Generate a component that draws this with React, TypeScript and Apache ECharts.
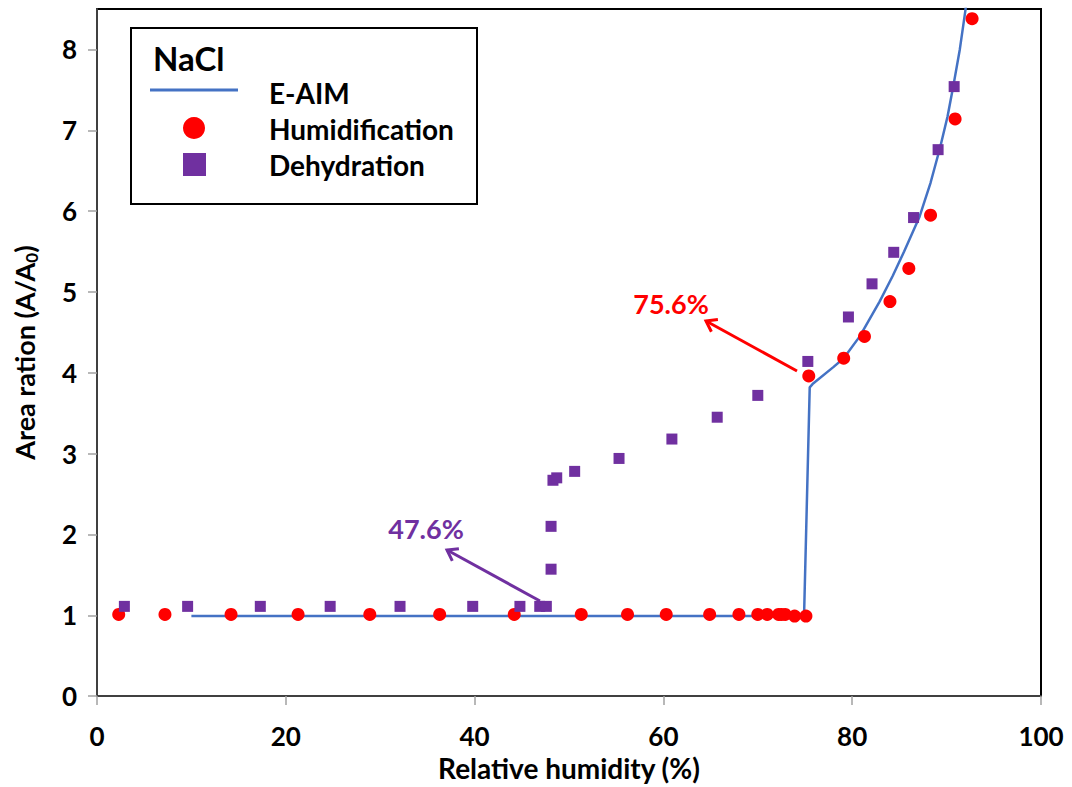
import React, { useEffect, useRef } from "react";
import * as echarts from "echarts";

// Humidification (red circles)
const humidRH = [2.3, 7.2, 14.2, 21.3, 28.9, 36.3, 44.2, 51.3, 56.2, 60.3, 64.9, 68.0, 70.0, 71.0, 72.2, 72.5, 72.9, 73.9, 75.1, 75.4, 79.1, 81.3, 84.0, 86.0, 88.3, 90.9, 92.7];
const humidRatio = [1.01, 1.01, 1.01, 1.01, 1.01, 1.01, 1.01, 1.01, 1.01, 1.01, 1.01, 1.01, 1.01, 1.01, 1.01, 1.01, 1.01, 0.99, 0.99, 3.96, 4.18, 4.45, 4.88, 5.29, 5.95, 7.14, 8.38];

// Dehydration (purple squares)
const dehydRH = [2.9, 9.6, 17.3, 24.7, 32.1, 39.8, 44.8, 46.9, 47.6, 48.1, 48.1, 48.3, 48.7, 50.6, 55.3, 60.9, 65.7, 70.0, 75.3, 79.6, 82.1, 84.4, 86.5, 89.1, 90.8];
const dehydRatio = [1.11, 1.11, 1.11, 1.11, 1.11, 1.11, 1.11, 1.11, 1.11, 1.57, 2.10, 2.67, 2.70, 2.78, 2.94, 3.18, 3.45, 3.72, 4.14, 4.69, 5.10, 5.49, 5.92, 6.76, 7.54];

// E-AIM model curve
const eaimRH = [10, 74.9, 75.5, 75.8, 78.0, 79.1, 80.8, 82.9, 84.3, 85.5, 87.1, 88.3, 89.3, 90.1, 90.7, 91.4, 92.0, 92.1];
const eaimRatio = [0.99, 0.99, 3.82, 3.86, 4.07, 4.18, 4.45, 4.88, 5.2, 5.5, 5.92, 6.35, 6.78, 7.17, 7.54, 8.0, 8.49, 8.6];

const yTicks = [0, 1, 2, 3, 4, 5, 6, 7, 8];
const xTicks = [0, 20, 40, 60, 80, 100];

const FONT = "Lato";
const RED = "#FF0000";
const PURPLE = "#7030A0";
const BLUE = "#4472C4";

export default function App() {
  const ref = useRef<HTMLDivElement>(null);
  useEffect(() => {
    const chart = echarts.init(ref.current!, null, { renderer: "svg" });
    const zip = (a: number[], b: number[]) => a.map((v, i) => [v, b[i]]);
    const arrow = (tail: number[], tip: number[], w1: number[], w2: number[], color: string) => [
      { type: "line", z: 50, shape: { x1: tail[0], y1: tail[1], x2: tip[0], y2: tip[1] }, style: { stroke: color, lineWidth: 3 } },
      { type: "polyline", z: 50, shape: { points: [w1, tip, w2] }, style: { stroke: color, lineWidth: 3, fill: null } },
    ];
    chart.setOption({
      animation: false,
      backgroundColor: "#fff",
      grid: { left: 97, top: 9, right: 31, bottom: 86, show: true, borderColor: "#000", borderWidth: 2, backgroundColor: "transparent" },
      xAxis: {
        type: "value",
        min: 0,
        max: 100,
        interval: 20,
        name: "Relative humidity (%)",
        nameLocation: "middle",
        nameGap: 53,
        nameTextStyle: { fontFamily: FONT, fontWeight: "bold", fontSize: 28, color: "#000" },
        axisLine: { show: true, onZero: false, lineStyle: { color: "#404040", width: 2 } },
        axisTick: { show: true, inside: false, length: 9, lineStyle: { color: "#a0a0a0", width: 1.5 }, customValues: xTicks },
        axisLabel: { fontFamily: FONT, fontWeight: "bold", fontSize: 26, color: "#000", margin: 27, customValues: xTicks },
        splitLine: { show: false },
      },
      yAxis: {
        type: "value",
        min: 0,
        max: 8.5,
        interval: 1,
        name: "{n|Area ration (A/A}{s|0}{n|)}",
        nameLocation: "middle",
        nameGap: 57,
        nameTextStyle: {
          rich: {
            n: { fontFamily: FONT, fontWeight: "bold", fontSize: 27, color: "#000", lineHeight: 32 },
            s: { fontFamily: FONT, fontWeight: "bold", fontSize: 17, color: "#000", lineHeight: 32, verticalAlign: "bottom" },
          },
        },
        axisLine: { show: true, onZero: false, lineStyle: { color: "#404040", width: 2 } },
        axisTick: { show: true, inside: false, length: 9, lineStyle: { color: "#a0a0a0", width: 1.5 }, customValues: yTicks },
        axisLabel: { fontFamily: FONT, fontWeight: "bold", fontSize: 26, color: "#000", margin: 20, customValues: yTicks },
        splitLine: { show: false },
      },
      series: [
        {
          name: "E-AIM",
          type: "line",
          data: zip(eaimRH, eaimRatio),
          showSymbol: false,
          symbol: "none",
          smooth: false,
          clip: true,
          lineStyle: { color: BLUE, width: 2.5 },
          z: 2,
        },
        {
          name: "Humidification",
          type: "scatter",
          data: zip(humidRH, humidRatio),
          symbol: "circle",
          symbolSize: 13,
          itemStyle: { color: RED, opacity: 1 },
          z: 3,
        },
        {
          name: "Dehydration",
          type: "scatter",
          data: zip(dehydRH, dehydRatio),
          symbol: "rect",
          symbolSize: 11,
          itemStyle: { color: PURPLE, opacity: 1 },
          z: 4,
        },
      ],
      graphic: [
        { type: "rect", z: 100, shape: { x: 131, y: 28, width: 346, height: 176 }, style: { fill: "#fff", stroke: "#000", lineWidth: 2 } },
        { type: "text", z: 101, x: 153, y: 58, style: { text: "NaCl", fontFamily: FONT, fontWeight: "bold", fontSize: 33, fill: "#000", verticalAlign: "middle" } },
        { type: "line", z: 101, shape: { x1: 150, y1: 90, x2: 238, y2: 90 }, style: { stroke: BLUE, lineWidth: 3 } },
        { type: "circle", z: 101, shape: { cx: 194, cy: 128, r: 11 }, style: { fill: RED } },
        { type: "rect", z: 101, shape: { x: 183, y: 153, width: 23, height: 23 }, style: { fill: PURPLE } },
        { type: "text", z: 101, x: 269, y: 93, style: { text: "E-AIM", fontFamily: FONT, fontWeight: "bold", fontSize: 28, fill: "#000", verticalAlign: "middle" } },
        { type: "text", z: 101, x: 269, y: 129, style: { text: "Humidification", fontFamily: FONT, fontWeight: "bold", fontSize: 28, fill: "#000", verticalAlign: "middle" } },
        { type: "text", z: 101, x: 269, y: 165, style: { text: "Dehydration", fontFamily: FONT, fontWeight: "bold", fontSize: 28, fill: "#000", verticalAlign: "middle" } },
        { type: "text", z: 101, x: 671, y: 303, style: { text: "75.6%", fontFamily: FONT, fontWeight: "bold", fontSize: 27, fill: RED, align: "center", verticalAlign: "middle" } },
        { type: "text", z: 101, x: 426, y: 528, style: { text: "47.6%", fontFamily: FONT, fontWeight: "bold", fontSize: 27, fill: PURPLE, align: "center", verticalAlign: "middle" } },
        ...arrow([797, 371], [706, 321], [711.4, 331.7], [717.9, 319.6], RED),
        ...arrow([540, 601], [447, 550], [452.3, 560.8], [458.9, 548.7], PURPLE),
      ],
    });
    return () => chart.dispose();
  }, []);
  return <div ref={ref} style={{ position: "absolute", left: 0, top: 0, width: 1072, height: 787 }} />;
}
